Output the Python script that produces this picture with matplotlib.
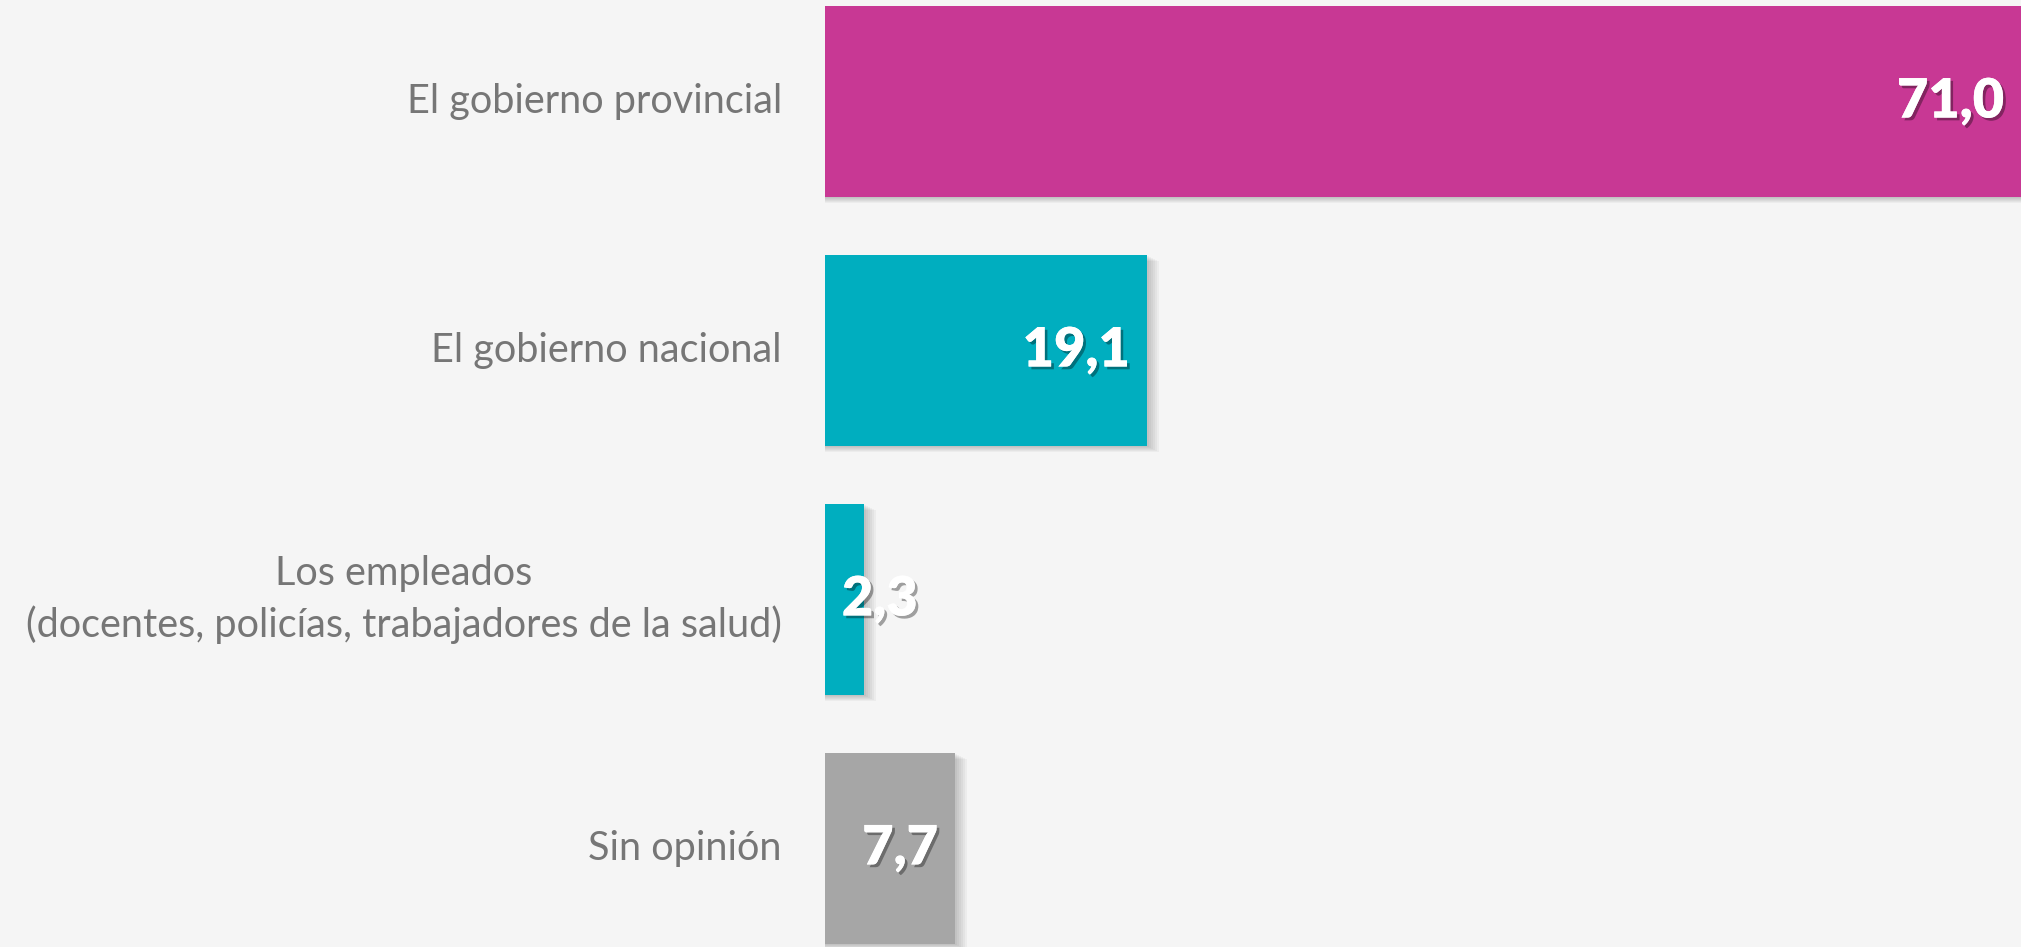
import matplotlib.pyplot as plt
import matplotlib.patheffects as pe

# Datos del gráfico
categorias = ['El gobierno provincial', 'El gobierno nacional',
              'Los empleados\n(docentes, policías, trabajadores de la salud)',
              'Sin opinión']
valores = [71.0, 19.1, 2.3, 7.7]
colores = ['#C83894', '#00AEBF', '#00AEBF', '#A6A6A6']
etiquetas = ['71,0', '19,1', '2,3', '7,7']

fondo = '#F5F5F5'

fig = plt.figure(figsize=(20.21, 9.47), dpi=100, facecolor=fondo)
ax = fig.add_axes([825 / 2021, 0, 1 - 825 / 2021, 1])
ax.set_facecolor(fondo)

pos = list(range(len(valores)))

# sombra difusa de las barras (varias capas)
for k in range(1, 7):
    ax.barh([p + 0.004 * k for p in pos], [v + 0.12 * k for v in valores],
            height=0.767, color='black', alpha=0.035, zorder=1)

ax.barh(pos, valores, height=0.767, color=colores, zorder=2)

sombra_txt = [pe.withSimplePatchShadow(offset=(2, -2), shadow_rgbFace='black', alpha=0.35),
              pe.Normal()]
for p, v, t in zip(pos, valores, etiquetas):
    if v > 5:
        ax.text(v - 1.0, p, t, ha='right', va='center', color='white',
                fontsize=39, fontweight='heavy', family='Lato',
                path_effects=sombra_txt, zorder=3)
    else:
        ax.text(1.0, p, t, ha='left', va='center', color='white',
                fontsize=39, fontweight='heavy', family='Lato',
                path_effects=sombra_txt, zorder=3)

ax.set_xlim(0, 71.0)
ax.set_ylim(3.396, -0.408)
ax.set_yticks(pos)
ax.set_yticklabels(categorias, fontsize=28.5, color='#767676', family='Lato')
for t in ax.get_yticklabels():
    t.set_multialignment('center')
    t.set_linespacing(1.45)
    t.set_va('center')
ax.tick_params(axis='y', length=0, pad=31)
ax.set_xticks([])
for s in ax.spines.values():
    s.set_visible(False)

fig.savefig('out.png', dpi=100, facecolor=fondo)
